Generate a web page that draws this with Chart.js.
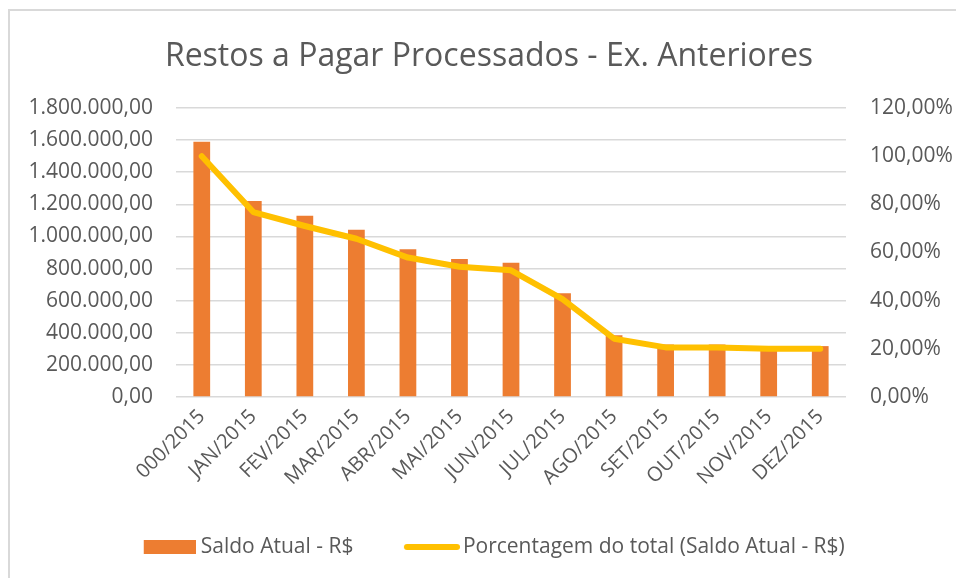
<!DOCTYPE html>
<html>
<head>
<meta charset="utf-8">
<script src="https://cdn.jsdelivr.net/npm/chart.js@4/dist/chart.umd.min.js"></script>
<style>
  html, body { margin: 0; padding: 0; background: #fff; overflow: hidden; }
  #wrap { position: relative; width: 956px; height: 578px; }
  #frame { position: absolute; left: 8px; top: 9px; width: 960px; height: 600px;
           border: 2px solid #d9d9d9; pointer-events: none; }
</style>
</head>
<body>
<div id="wrap">
  <canvas id="chart" width="956" height="578"></canvas>
  <div id="frame"></div>
</div>
<script>
  const months = ["000/2015", "JAN/2015", "FEV/2015", "MAR/2015", "ABR/2015", "MAI/2015", "JUN/2015",
                  "JUL/2015", "AGO/2015", "SET/2015", "OUT/2015", "NOV/2015", "DEZ/2015"];
  const saldoAtual = [1590000, 1221000, 1129000, 1042000, 921000, 860000, 836000,
                      646000, 385000, 327000, 327000, 317000, 317000];
  const porcentagem = [100, 76.8, 71.0, 65.7, 57.9, 54.1, 52.6, 40.6, 24.2, 20.6, 20.6, 20.0, 20.0];

  const FONT = "'Open Sans', 'Noto Sans', sans-serif";
  const TEXT = "#595959";
  const LEG_FONT = 21;
  const LEG_BOX = 89;      // largura reservada ao ícone (controla o espaçamento)
  const LEG_SHIFT = -16;   // desloca a legenda para a esquerda, como no Excel

  // formato pt-BR sem depender do ICU
  const fmtBR = v => {
    const [int, dec] = Math.abs(v).toFixed(2).split(".");
    return int.replace(/\B(?=(\d{3})+(?!\d))/g, ".") + "," + dec;
  };

  // ícones da legenda: imagem centrada no box, desenho encostado à direita (perto do texto)
  const makeIcon = (iconW, iconH, gap, draw) => {
    const c = document.createElement("canvas");
    c.width = LEG_BOX + LEG_FONT - 2 * gap;
    c.height = iconH;
    const g = c.getContext("2d");
    g.translate(c.width - iconW, 0);
    draw(g);
    return c;
  };
  const barIcon = makeIcon(52, 14, 5, g => { g.fillStyle = "#ED7D31"; g.fillRect(0, 0, 52, 14); });
  const lineIcon = makeIcon(56, 6, 3, g => {
    g.strokeStyle = "#FFC000"; g.lineWidth = 6; g.lineCap = "round";
    g.beginPath(); g.moveTo(3, 3); g.lineTo(53, 3); g.stroke();
  });

  const shiftLegend = {
    id: "shiftLegend",
    afterLayout(chart) {
      chart.legend.left += LEG_SHIFT;
      chart.legend.right += LEG_SHIFT;
    }
  };

  const ctx = document.getElementById("chart").getContext("2d");
  new Chart(ctx, {
    data: {
      labels: months,
      datasets: [
        {
          type: "line",
          label: "Porcentagem do total (Saldo Atual - R$)",
          data: porcentagem,
          yAxisID: "y1",
          borderColor: "#FFC000",
          backgroundColor: "#FFC000",
          borderWidth: 6,
          borderCapStyle: "round",
          borderJoinStyle: "round",
          pointRadius: 0,
          tension: 0,
          order: 0
        },
        {
          type: "bar",
          label: "Saldo Atual - R$",
          data: saldoAtual,
          yAxisID: "y",
          backgroundColor: "#ED7D31",
          categoryPercentage: 1,
          barPercentage: 0.325,
          order: 1
        }
      ]
    },
    plugins: [shiftLegend],
    options: {
      responsive: false,
      animation: false,
      devicePixelRatio: 1,
      layout: { padding: { left: 22, right: 0, top: 0, bottom: 10.5 } },
      plugins: {
        title: {
          display: true,
          text: "Restos a Pagar Processados - Ex. Anteriores",
          color: TEXT,
          font: { family: FONT, size: 32, weight: "normal", lineHeight: 1.2 },
          padding: { top: 37.8, bottom: 31.8 }
        },
        legend: {
          position: "bottom",
          reverse: true,
          labels: {
            color: TEXT,
            font: { family: FONT, size: LEG_FONT },
            usePointStyle: true,
            pointStyleWidth: LEG_BOX,
            padding: 10,
            generateLabels: chart => chart.data.datasets.map((ds, i) => ({
              text: ds.label,
              pointStyle: ds.type === "bar" ? barIcon : lineIcon,
              fillStyle: ds.backgroundColor,
              strokeStyle: ds.borderColor,
              lineWidth: 0,
              hidden: false,
              datasetIndex: i,
              fontColor: TEXT
            }))
          }
        },
        tooltip: { enabled: false }
      },
      scales: {
        x: {
          grid: { display: false },
          border: { display: false },
          ticks: {
            color: TEXT,
            font: { family: FONT, size: 20 },
            minRotation: 45,
            maxRotation: 45,
            autoSkip: false,
            padding: 0
          },
          afterFit: s => { s.height = 129.5; }
        },
        y: {
          position: "left",
          min: 0,
          max: 1800000,
          grid: { color: "#d9d9d9", lineWidth: 1.5, drawTicks: false },
          border: { display: false },
          ticks: {
            stepSize: 200000,
            color: TEXT,
            font: { family: FONT, size: 21 },
            padding: 23,
            callback: v => fmtBR(v)
          },
          afterFit: s => { s.width = 176 - 22; }
        },
        y1: {
          position: "right",
          min: 0,
          max: 120,
          grid: { display: false, drawTicks: false },
          border: { display: false },
          ticks: {
            stepSize: 20,
            color: TEXT,
            font: { family: FONT, size: 21 },
            padding: 24,
            callback: v => v.toFixed(2).replace(".", ",") + "%"
          },
          afterFit: s => { s.width = 956 - 846; }
        }
      }
    }
  });
</script>
</body>
</html>
